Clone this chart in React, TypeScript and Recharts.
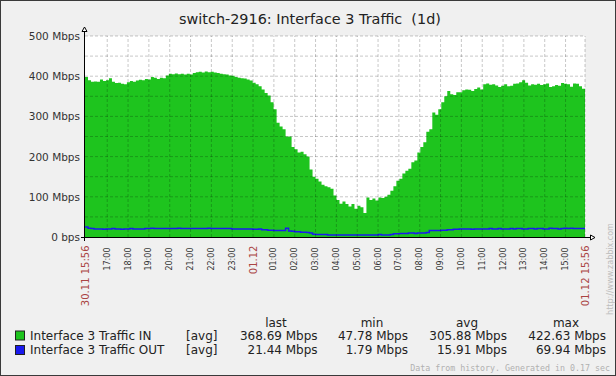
import React from 'react';
import { ComposedChart, Area, Line, XAxis, YAxis, CartesianGrid, ReferenceLine } from 'recharts';

// Interface 3 Traffic IN (Mbps), sampled uniformly over the 24h period
const inValues = [
  398, 390, 386, 387, 386, 392, 388, 390, 395, 386,
  383, 384, 381, 380, 385, 388, 386, 389, 391, 390,
  393, 392, 398, 396, 393, 396, 395, 402, 406, 405,
  407, 405, 406, 404, 406, 404, 408, 410, 411, 409,
  412, 410, 411, 409, 408, 406, 405, 404, 402, 401,
  398, 396, 395, 394, 392, 389, 384, 380, 375, 367,
  358, 352, 335, 318, 284, 275, 268, 250, 250, 224,
  218, 210, 212, 206, 200, 168, 150, 145, 138, 130,
  126, 124, 120, 103, 92, 83, 88, 82, 76, 82,
  70, 78, 74, 60, 98, 92, 96, 91, 98, 97,
  100, 105, 115, 126, 140, 145, 158, 165, 170, 186,
  190, 210, 224, 236, 262, 268, 310, 304, 318, 335,
  350, 363, 355, 353, 360, 360, 365, 367, 366, 363,
  368, 372, 367, 380, 382, 379, 380, 377, 373, 376,
  380, 375, 376, 381, 382, 385, 390, 384, 377, 380,
  379, 381, 378, 380, 382, 373, 375, 378, 376, 383,
  381, 380, 374, 382, 381, 375, 369,
];

// Interface 3 Traffic OUT (Mbps)
const outValues = [
  25, 22, 21, 20, 20, 20, 19, 20, 20, 21, 20, 20, 19, 20, 20, 21, 20, 20, 20, 20,
  21, 21, 22, 21, 21, 21, 21, 21, 21, 21, 21, 22, 21, 21, 21, 21, 21, 21, 21, 21,
  21, 22, 21, 21, 21, 21, 21, 21, 21, 20, 20, 20, 20, 20, 20, 20, 19, 19, 20, 18,
  18, 17, 17, 16, 16, 16, 16, 22, 15, 14, 13, 13, 12, 12, 11, 10, 7, 6, 6, 6,
  6, 5, 5, 5, 5, 5, 5, 5, 5, 5, 5, 5, 5, 5, 5, 5, 5, 5, 6, 5,
  5, 5, 6, 8, 8, 9, 9, 9, 10, 10, 9, 10, 10, 10, 11, 16, 16, 16, 16, 17,
  17, 18, 18, 19, 19, 20, 20, 20, 20, 19, 20, 20, 20, 20, 20, 21, 20, 20, 21, 20,
  20, 20, 21, 20, 21, 21, 20, 20, 21, 21, 20, 21, 21, 20, 20, 22, 21, 21, 20, 21,
  22, 21, 22, 21, 21, 21, 21,
];

const periodMinutes = 1440;

const yTickValues = [0, 100, 200, 300, 400, 500];
const yTickLabels = ['0 bps', '100 Mbps', '200 Mbps', '300 Mbps', '400 Mbps', '500 Mbps'];
const gridValues = [50, 100, 150, 200, 250, 300, 350, 400, 450, 500];

// minutes after 30.11 15:56
const xTickMinutes = [0, 64, 124, 184, 244, 304, 364, 424, 484, 544, 604, 664, 724, 784, 844, 904, 964, 1024, 1084, 1144, 1204, 1264, 1324, 1384, 1440];
const xTickLabels = ['30.11 15:56', '17:00', '18:00', '19:00', '20:00', '21:00', '22:00', '23:00', '01.12', '01:00', '02:00', '03:00', '04:00', '05:00', '06:00', '07:00', '08:00', '09:00', '10:00', '11:00', '12:00', '13:00', '14:00', '15:00', '01.12 15:56'];
const mainTickLabels = ['30.11 15:56', '01.12', '01.12 15:56'];

const title = 'switch-2916: Interface 3 Traffic  (1d)';
const legendNames = ['Interface 3 Traffic IN', 'Interface 3 Traffic OUT'];
const statHeaders = ['last', 'min', 'avg', 'max'];
const inStats = ['368.69 Mbps', '47.78 Mbps', '305.88 Mbps', '422.63 Mbps'];
const outStats = ['21.44 Mbps', '1.79 Mbps', '15.91 Mbps', '69.94 Mbps'];
const footer = 'Data from history. Generated in 0.17 sec';
const urlText = 'http://www.zabbix.com';

const GREEN = '#1ec41e';
const BLUE = '#1a1aee';
const FONT = 'DejaVu Sans';

const rows = inValues.map((v, i) => ({ t: (i * periodMinutes) / inValues.length, in: v, out: outValues[i] }));
rows.push({ t: periodMinutes, in: inValues[inValues.length - 1], out: outValues[outValues.length - 1] });

const YTick = (props: any) => {
  const { x, y, payload } = props;
  const label = yTickLabels[yTickValues.indexOf(payload.value)];
  return (
    <text x={x} y={y} textAnchor="end" dominantBaseline="central" fontSize={10.5} fill="#333" fontFamily={FONT}>
      {label}
    </text>
  );
};

const XTick = (props: any) => {
  const { x, y, payload } = props;
  const label = xTickLabels[xTickMinutes.indexOf(payload.value)];
  const main = mainTickLabels.includes(label);
  const yy = y + (main ? 8.5 : 10.5);
  return (
    <text
      x={x}
      y={yy}
      transform={`rotate(-90 ${x} ${yy})`}
      textAnchor="end"
      dominantBaseline="central"
      fontSize={main ? 10 : 8}
      fill={main ? '#aa4444' : '#333'}
      fontFamily={FONT}
    >
      {label}
    </text>
  );
};

const statRight = [317.6, 408, 507, 606];
const statHeaderCenter = [276, 372, 467, 566];

export default function App() {
  const verticalGrid = xTickMinutes.filter((m) => m > 0);
  return (
    <div style={{ position: 'absolute', left: 0, top: 0, width: 616, height: 376, background: '#f0f0f0', overflow: 'hidden' }}>
      <ComposedChart width={616} height={376} data={rows} margin={{ top: 36, right: 31, bottom: 0, left: 0 }}>
        <CartesianGrid fill="#ffffff" horizontal={false} vertical={false} stroke="none" />
        <XAxis
          dataKey="t"
          type="number"
          domain={[0, periodMinutes]}
          ticks={xTickMinutes}
          interval={0}
          height={139}
          tickSize={0}
          tickMargin={0}
          axisLine={false}
          tickLine={false}
          tick={<XTick />}
        />
        <YAxis
          type="number"
          domain={[0, 500]}
          ticks={yTickValues}
          interval={0}
          width={85}
          tickSize={0}
          tickMargin={5}
          axisLine={false}
          tickLine={false}
          tick={<YTick />}
        />
        <Area
          dataKey="in"
          type="stepAfter"
          fill={GREEN}
          fillOpacity={1}
          stroke="none"
          isAnimationActive={false}
          dot={false}
          activeDot={false}
        />
        <Line
          dataKey="out"
          type="stepAfter"
          stroke={BLUE}
          strokeWidth={1.5}
          isAnimationActive={false}
          dot={false}
          activeDot={false}
        />
        {gridValues.map((v) => (
          <ReferenceLine key={'h' + v} y={v} stroke="#000" strokeOpacity={0.22} strokeDasharray="3 2" />
        ))}
        {verticalGrid.map((m) => (
          <ReferenceLine key={'v' + m} x={m} stroke="#000" strokeOpacity={0.22} strokeDasharray="3 2" />
        ))}
      </ComposedChart>
      <svg width={616} height={376} style={{ position: 'absolute', left: 0, top: 0, pointerEvents: 'none' }}>
        <rect x={0.5} y={0.5} width={615} height={375} fill="none" stroke="#3a3a3a" />
        <text x={310} y={24} textAnchor="middle" fontSize={14.4} fill="#222" fontFamily={FONT} style={{ whiteSpace: 'pre' }}>
          {title}
        </text>
        {/* axes */}
        <line x1={84.5} y1={31} x2={84.5} y2={241} stroke="#000" />
        <line x1={81} y1={237.5} x2={590} y2={237.5} stroke="#000" />
        <polygon points="84.5,27 82,31.5 87,31.5" fill="#fff" stroke="#000" />
        <polygon points="595,237.5 590.5,235 590.5,240" fill="#fff" stroke="#000" />
        {/* legend */}
        {statHeaders.map((h, i) => (
          <text key={h} x={statHeaderCenter[i]} y={326.5} textAnchor="middle" fontSize={12} fill="#222" fontFamily={FONT}>
            {h}
          </text>
        ))}
        {legendNames.map((name, r) => {
          const base = r === 0 ? 339.5 : 354;
          const stats = r === 0 ? inStats : outStats;
          return (
            <g key={name}>
              <rect x={15.5} y={base - 8.5} width={9} height={9} fill={r === 0 ? GREEN : BLUE} stroke="#222" />
              <text x={30} y={base} fontSize={12} fill="#222" fontFamily={FONT}>
                {name}
              </text>
              <text x={186} y={base} fontSize={12} fill="#222" fontFamily={FONT}>
                [avg]
              </text>
              {stats.map((s, i) => (
                <text key={i} x={statRight[i]} y={base} textAnchor="end" fontSize={12} fill="#222" fontFamily={FONT}>
                  {s}
                </text>
              ))}
            </g>
          );
        })}
        <text x={610} y={371} textAnchor="end" fontSize={8.3} fill="#b0b0b0" fontFamily="DejaVu Sans Mono">
          {footer}
        </text>
        <text x={610} y={269} transform="rotate(-90 610 269)" textAnchor="middle" dominantBaseline="central" fontSize={8} fill="#bdbdbd" fontFamily={FONT}>
          {urlText}
        </text>
      </svg>
    </div>
  );
}
